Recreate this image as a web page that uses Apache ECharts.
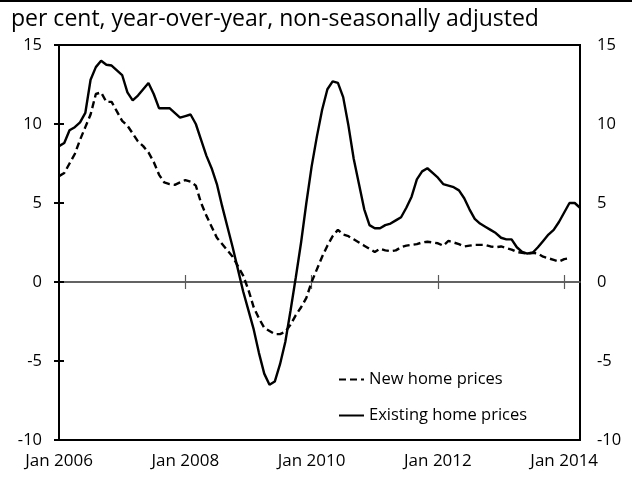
<!DOCTYPE html>
<html>
<head>
<meta charset="utf-8">
<script src="https://cdn.jsdelivr.net/npm/echarts@6/dist/echarts.min.js"></script>
<style>
html,body{margin:0;padding:0;background:#fff;}
#c{width:639px;height:477px;}
</style>
</head>
<body>
<div id="c"></div>
<script>
// Monthly, Jan 2006 (index 0) onward
var tickValues = [0, 24, 48, 72, 96];
var tickLabels = ['Jan 2006', 'Jan 2008', 'Jan 2010', 'Jan 2012', 'Jan 2014'];

var existingHome = [
  8.6, 8.8, 9.6, 9.8, 10.1, 10.7, 12.8, 13.6, 14.0, 13.75,
  13.7, 13.4, 13.1, 12.0, 11.5, 11.8, 12.2, 12.6, 11.9, 11.0,
  11.0, 11.0, 10.7, 10.4, 10.5, 10.6, 10.0, 9.0, 8.0, 7.2,
  6.2, 4.8, 3.5, 2.2, 0.8, -0.6, -1.8, -3.0, -4.5, -5.8,
  -6.5, -6.3, -5.2, -3.8, -1.8, 0.3, 2.5, 5.0, 7.3, 9.2,
  10.9, 12.2, 12.7, 12.6, 11.7, 9.9, 7.8, 6.2, 4.6, 3.6,
  3.4, 3.4, 3.6, 3.7, 3.9, 4.1, 4.7, 5.4, 6.5, 7.0,
  7.2, 6.9, 6.6, 6.2, 6.1, 6.0, 5.8, 5.3, 4.6, 4.0,
  3.7, 3.5, 3.3, 3.1, 2.8, 2.7, 2.7, 2.2, 1.9, 1.8,
  1.85, 2.2, 2.6, 3.0, 3.3, 3.8, 4.4, 5.0, 5.0, 4.7
];
var newHome = [
  6.7, 6.9, 7.5, 8.1, 9.0, 9.8, 10.6, 11.9, 12.0, 11.4,
  11.4, 10.8, 10.2, 9.9, 9.4, 8.9, 8.6, 8.2, 7.6, 6.8,
  6.3, 6.2, 6.15, 6.3, 6.45, 6.35, 6.1, 5.0, 4.2, 3.5,
  2.8, 2.4, 2.0, 1.6, 1.0, 0.4, -0.5, -1.6, -2.3, -2.9,
  -3.1, -3.3, -3.3, -3.15, -2.7, -2.1, -1.6, -1.0, 0.0, 0.8,
  1.6, 2.3, 2.9, 3.3, 3.0, 2.9, 2.7, 2.5, 2.3, 2.1,
  1.9, 2.1, 2.0, 1.95, 2.0, 2.2, 2.3, 2.35, 2.4, 2.5,
  2.55, 2.5, 2.45, 2.3, 2.6, 2.5, 2.4, 2.25, 2.3, 2.35,
  2.35, 2.35, 2.25, 2.2, 2.25, 2.15, 2.05, 1.9, 1.85, 1.8,
  1.85, 1.8, 1.6, 1.5, 1.4, 1.3, 1.45, 1.5
];

var seriesNames = ['New home prices', 'Existing home prices'];
var titleText = 'per cent, year-over-year, non-seasonally adjusted';

function pairs(arr){ return arr.map(function(v,i){ return [i, v]; }); }

var FONT = 'Open Sans';
var chart = echarts.init(document.getElementById('c'), null, {renderer:'canvas'});

function yAxisCfg(pos){
  return {
    type: 'value', position: pos, min: -10, max: 15, interval: 5,
    axisLine: { show: false },
    axisTick: { show: true, inside: true, length: 5, lineStyle: { color: '#000', width: 2 } },
    splitLine: { show: false },
    axisLabel: { color: '#000', fontFamily: FONT, fontSize: 16.5, margin: 17 }
  };
}

function zeroAxis(yIdx, inside){
  return {
    type: 'value', min: 0, max: 99, position: 'bottom',
    axisLine: { show: true, onZero: true, onZeroAxisIndex: yIdx, lineStyle: { color: '#5a5a5a', width: 1.5 } },
    axisTick: { show: true, inside: inside, length: 7, customValues: tickValues.slice(1), lineStyle: { color: '#5a5a5a', width: 1.2 } },
    axisLabel: { show: false },
    splitLine: { show: false }
  };
}

chart.setOption({
  animation: false,
  backgroundColor: '#fff',
  grid: { left: 59, right: 59, top: 45, bottom: 37, show: true, borderColor: '#000', borderWidth: 2, backgroundColor: 'transparent', containLabel: false },
  graphic: [
    { type: 'rect', shape: { x: 0, y: 0, width: 632, height: 2 }, style: { fill: '#000' } },
    { type: 'text', left: 11, top: 8, style: { text: titleText, font: '23px "' + FONT + '"', fill: '#000' } }
  ],
  legend: {
    orient: 'vertical', left: 333, top: 366,
    itemWidth: 25, itemHeight: 14, itemGap: 19,
    data: seriesNames,
    itemStyle: { opacity: 0 },
    textStyle: { color: '#000', fontFamily: FONT, fontSize: 16.5 }
  },
  xAxis: [
    {
      type: 'value', min: 0, max: 99, position: 'bottom',
      axisLine: { show: false, onZero: false },
      axisTick: { show: false },
      splitLine: { show: false },
      axisLabel: {
        color: '#000', fontFamily: FONT, fontSize: 17, margin: 13,
        customValues: tickValues,
        formatter: function(v){ var k = tickValues.indexOf(v); return k >= 0 ? tickLabels[k] : ''; }
      }
    },
    zeroAxis(0, false),
    zeroAxis(1, true)
  ],
  yAxis: [ yAxisCfg('left'), yAxisCfg('right') ],
  series: [
    {
      name: seriesNames[0], type: 'line', xAxisIndex: 0, yAxisIndex: 0,
      data: pairs(newHome), symbol: 'none', smooth: false, z: 5,
      lineStyle: { color: '#000', width: 2.4, type: [7, 4] }, itemStyle: { color: '#000' }
    },
    {
      name: seriesNames[1], type: 'line', xAxisIndex: 0, yAxisIndex: 0,
      data: pairs(existingHome), symbol: 'none', smooth: false, z: 5,
      lineStyle: { color: '#000', width: 2.4 }, itemStyle: { color: '#000' }
    }
  ]
});
</script>
</body>
</html>
